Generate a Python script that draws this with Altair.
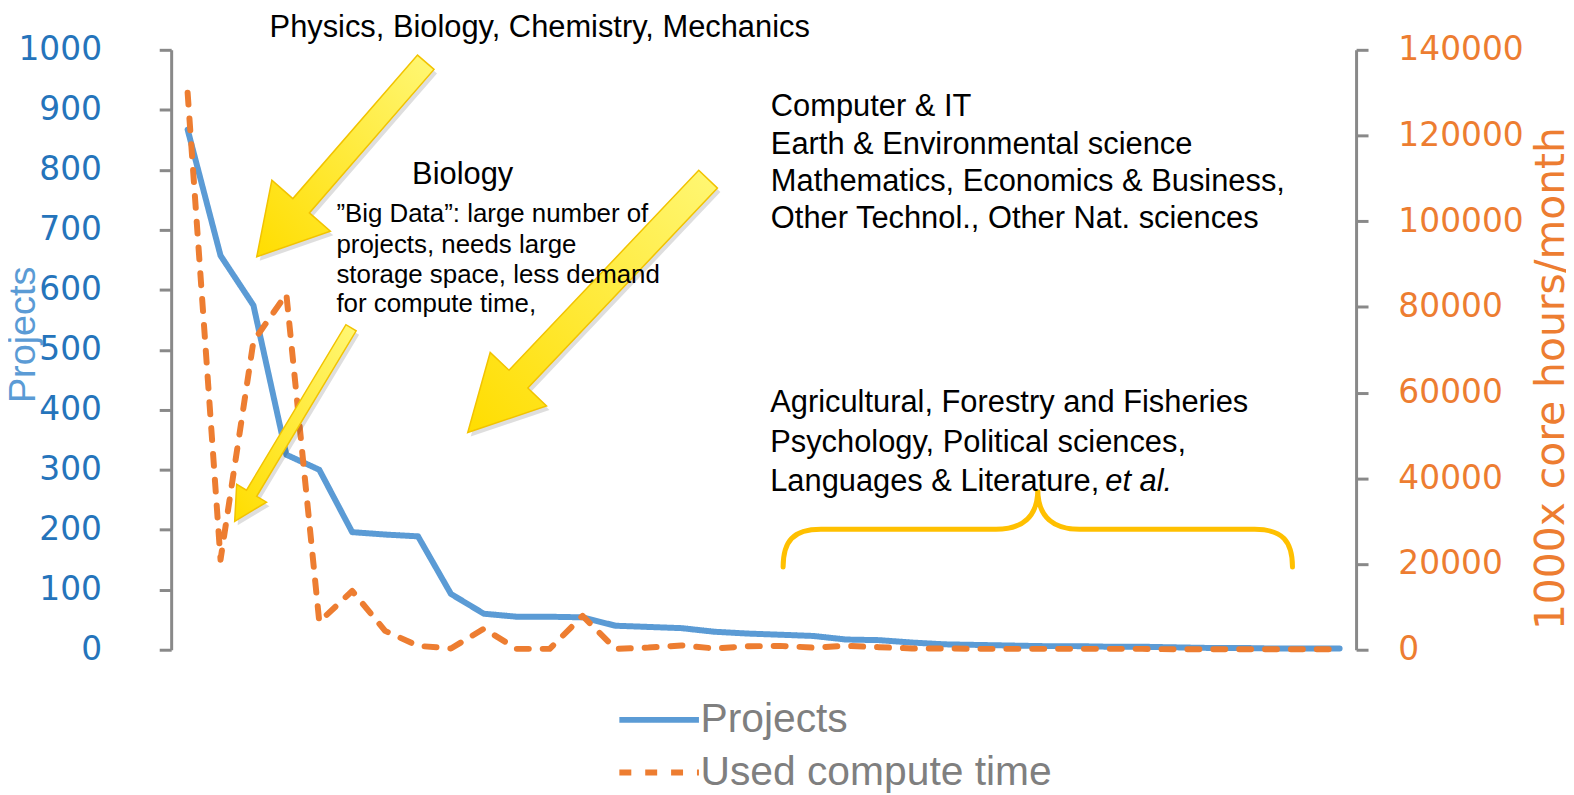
import math
import altair as alt
import pandas as pd

# ---------------- data ----------------
categories = list(range(1, 37))
projects = [867, 657, 574, 325, 300, 196, 192, 189, 93, 60, 55, 55, 54, 40, 38, 36,
            30, 27, 25, 23, 17, 16, 12, 9, 8, 7, 6, 6, 5, 5, 4, 3, 3, 2, 2, 2]
compute = [130000, 21000, 72000, 83000, 6500, 13700, 4400, 900, 300, 4900, 200, 200,
           7900, 200, 500, 1000, 300, 800, 900, 500, 900, 600, 300, 300, 200, 200,
           200, 200, 200, 200, 100, 100, 100, 100, 100, 100]
series_names = ["Projects", "Used compute time"]
left_ticks = list(range(0, 1001, 100))
right_ticks = list(range(0, 140001, 20000))

# annotation texts (anchor in data units: category index, projects value)
main_texts = ["Physics, Biology, Chemistry, Mechanics", "Biology",
              "Computer & IT", "Earth & Environmental science",
              "Mathematics, Economics & Business,", "Other Technol., Other Nat. sciences",
              "Agricultural, Forestry and Fisheries", "Psychology, Political sciences,",
              "Languages & Literature,"]
main_x = [3.49, 7.82, 18.72, 18.72, 18.72, 18.72, 18.70, 18.70, 18.70]
main_y = [1021.6, 776.1, 888.9, 825.9, 764.5, 703.2, 395.5, 329.7, 264.8]
small_texts = ["\u201dBig Data\u201d: large number of", "projects, needs large",
               "storage space, less demand", "for compute time,"]
small_x = [5.52, 5.52, 5.52, 5.52]
small_y = [713.1, 661.7, 611.9, 562.2]
italic_texts = ["et al."]
italic_x = [28.88]
italic_y = [264.8]

# arrow tips (data units)
arrow_x = [3.10, 2.43, 9.51]
arrow_y = [655, 214, 362]
brace_x = [26.83]
brace_y = [200.7]

# ---------------- styles ----------------
BLUE = "#5B9BD5"
BLUE_LBL = "#2574BB"
ORANGE = "#ED7D31"
GREY = "#7F7F7F"
AX = "#898989"
W, H = 1191, 603
XDOM = [0.5, 36.5]


def arrow_path(angle_deg, length, shaft_w, head_w, head_l, dx=0.0, dy=0.0):
    a = math.radians(angle_deg)
    ux, uy = math.cos(a), math.sin(a)
    nx, ny = -uy, ux
    pts = [(0.0, 0.0),
           (ux * head_l + nx * head_w / 2, uy * head_l + ny * head_w / 2),
           (ux * head_l + nx * shaft_w / 2, uy * head_l + ny * shaft_w / 2),
           (ux * length + nx * shaft_w / 2, uy * length + ny * shaft_w / 2),
           (ux * length - nx * shaft_w / 2, uy * length - ny * shaft_w / 2),
           (ux * head_l - nx * shaft_w / 2, uy * head_l - ny * shaft_w / 2),
           (ux * head_l - nx * head_w / 2, uy * head_l - ny * head_w / 2)]
    return "M" + "L".join(f"{x + dx:.1f},{y + dy:.1f}" for x, y in pts) + "Z"


arrow_geom = [(-49.0, 259, 22, 78, 68), (-59.0, 227, 12, 35, 33), (-46.5, 351, 26, 78, 74)]
brace_path = ("M-256,38C-256,12 -246,0 -218,0L-42,0C-16,0 0,-12 0,-40"
              "C0,-12 16,0 42,0L218,0C246,0 256,12 256,38")

df = pd.DataFrame({"cat": categories, "projects": projects, "compute": compute})

xenc = alt.X("cat:Q", scale=alt.Scale(domain=XDOM, nice=False, zero=False),
             axis=alt.Axis(values=categories, labels=False, tickSize=10, tickWidth=3,
                           tickColor=AX, domainColor=AX, domainWidth=3, grid=False, title=None))
xplain = lambda f: alt.X(f, scale=alt.Scale(domain=XDOM, nice=False, zero=False), axis=None)
yplain = lambda f: alt.Y(f, scale=alt.Scale(domain=[0, 1000], nice=False), axis=None)

leg = dict(orient="none", legendX=470, legendY=653, title=None, symbolType="M-3,0H3",
           symbolSize=711, symbolStrokeWidth=6, labelFontSize=41, labelFont="Liberation Sans",
           labelColor=GREY, labelOffset=21, labelLimit=800, rowPadding=11, padding=0,
           symbolOpacity=1)
color = alt.Color("series:N", scale=alt.Scale(domain=series_names, range=[BLUE, ORANGE]),
                  legend=alt.Legend(**leg))
dash = alt.StrokeDash("series:N", scale=alt.Scale(domain=series_names, range=[[1, 0], [12, 14]]),
                      legend=alt.Legend(**leg))

left_axis = alt.Axis(values=left_ticks, format="d", title="Projects", titleColor=BLUE,
                     titleFontSize=38, titleFont="Liberation Sans", titleFontWeight="normal",
                     titleX=-137, titleY=286, titleAngle=270, titleAlign="center",
                     titleBaseline="alphabetic",
                     labelFont="DejaVu Sans", labelFontSize=33, labelColor=BLUE_LBL, labelPadding=58,
                     labelFlush=False, tickSize=12, tickWidth=3, tickColor=AX, domainColor=AX,
                     domainWidth=3, grid=False)
right_axis = alt.Axis(orient="right", values=right_ticks, format="d",
                      title="1000x core hours/month", titleColor=ORANGE, titleFontSize=41,
                      titleFont="DejaVu Sans", titleFontWeight="normal", titleX=208, titleY=330,
                      titleAngle=270, titleAlign="center", titleBaseline="alphabetic",
                      labelFont="DejaVu Sans", labelFontSize=33, labelColor=ORANGE, labelPadding=30,
                      labelFlush=False, tickSize=12, tickWidth=3, tickColor=AX, domainColor=AX,
                      domainWidth=3, grid=False)

blue = alt.Chart(df).transform_calculate(series="'Projects'").mark_line(
    strokeWidth=6, strokeCap="round", strokeJoin="round").encode(
    x=xenc, y=alt.Y("projects:Q", scale=alt.Scale(domain=[0, 1000], nice=False), axis=left_axis),
    color=color, strokeDash=dash)

orange = alt.Chart(df).transform_calculate(series="'Used compute time'").mark_line(
    strokeWidth=6, strokeCap="round", strokeJoin="round").encode(
    x=xenc, y=alt.Y("compute:Q", scale=alt.Scale(domain=[0, 140000], nice=False), axis=right_axis),
    color=color, strokeDash=dash)

grad = alt.LinearGradient(gradient="linear",
                          stops=[alt.GradientStop(offset=0, color="#FFF775"),
                                 alt.GradientStop(offset=1, color="#FFDD00")],
                          x1=1, y1=0, x2=0, y2=1)

ann = []
for i, (ang, L, sw, hw, hl) in enumerate(arrow_geom):
    adf = pd.DataFrame({"ax": [arrow_x[i]], "ay": [arrow_y[i]]})
    ann.append(alt.Chart(adf).mark_point(
        shape=arrow_path(ang, L, sw, hw, hl, 3, 4), size=4, filled=True, fill="#000000",
        opacity=0.13, strokeWidth=0).encode(x=xplain("ax:Q"), y=yplain("ay:Q")))
    ann.append(alt.Chart(adf).mark_point(
        shape=arrow_path(ang, L, sw, hw, hl), size=4, filled=True, fill=grad,
        stroke="#F2C300", strokeWidth=1.5, opacity=1).encode(x=xplain("ax:Q"), y=yplain("ay:Q")))

bdf = pd.DataFrame({"bx": brace_x, "by": brace_y})
ann.append(alt.Chart(bdf).mark_point(
    shape=brace_path, size=4, filled=False, stroke="#FFC000", strokeWidth=5,
    strokeCap="round", opacity=1).encode(x=xplain("bx:Q"), y=yplain("by:Q")))

mdf = pd.DataFrame({"t": main_texts, "tx": main_x, "ty": main_y})
ann.append(alt.Chart(mdf).mark_text(align="left", baseline="alphabetic", font="Liberation Sans",
                                    fontSize=31, color="#000000").encode(
    x=xplain("tx:Q"), y=yplain("ty:Q"), text="t:N"))
sdf = pd.DataFrame({"t": small_texts, "tx": small_x, "ty": small_y})
ann.append(alt.Chart(sdf).mark_text(align="left", baseline="alphabetic", font="Liberation Sans",
                                    fontSize=26, color="#000000").encode(
    x=xplain("tx:Q"), y=yplain("ty:Q"), text="t:N"))
idf = pd.DataFrame({"t": italic_texts, "tx": italic_x, "ty": italic_y})
ann.append(alt.Chart(idf).mark_text(align="left", baseline="alphabetic", font="Liberation Sans",
                                    fontSize=31, fontStyle="italic", color="#000000").encode(
    x=xplain("tx:Q"), y=yplain("ty:Q"), text="t:N"))

annotations = alt.layer(*ann)

chart = alt.layer(blue, orange, annotations).resolve_scale(y="independent").properties(
    width=W, height=H, autosize="none",
    padding={"left": 164, "top": 40, "right": 211, "bottom": 146}
).configure_view(strokeWidth=0)

chart.save("out.html", embed_options={"renderer": "svg", "actions": False})
